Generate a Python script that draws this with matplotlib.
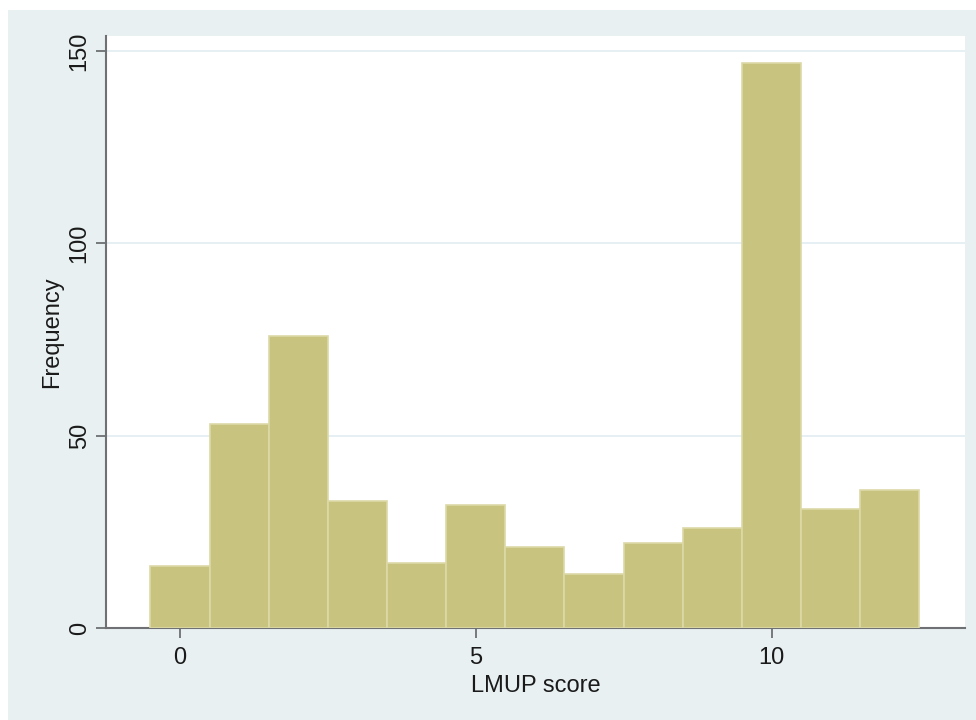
import matplotlib
matplotlib.use("Agg")
import matplotlib.pyplot as plt
from matplotlib.patches import Rectangle

scores = [0, 1, 2, 3, 4, 5, 6, 7, 8, 9, 10, 11, 12]
counts = [16, 53, 76, 33, 17, 32, 21, 14, 22, 26, 147, 31, 36]
x_ticks = [0, 5, 10]
y_ticks = [0, 50, 100, 150]

plt.rcParams["font.family"] = ["Liberation Sans", "DejaVu Sans"]

bg = "#e8f0f2"
bar_color = "#c9c380"
axis_color = "#6e7073"

fig = plt.figure(figsize=(9.76, 7.2), dpi=100, facecolor="white")
# bluish outer region, leaving a thin white strip at top and left
fig.patches.append(Rectangle((8 / 976, 0), 1, (720 - 10) / 720,
                             transform=fig.transFigure, facecolor=bg,
                             edgecolor="none", zorder=-10))

ax = fig.add_axes([106 / 976, 92 / 720, 859 / 976, 592 / 720])
ax.set_zorder(1)
ax.set_facecolor("white")

ax.bar(scores, counts, width=1.0, color=bar_color,
       edgecolor="#ddd9a8", linewidth=1.2, zorder=3)

ax.set_xlim(-1.25, 13.27)
ax.set_ylim(0, 153.9)
ax.set_xticks(x_ticks)
ax.set_yticks(y_ticks)
ax.yaxis.grid(True, color="#e4eef2", linewidth=1.3, zorder=0)
ax.set_axisbelow(True)

for side in ["top", "right"]:
    ax.spines[side].set_visible(False)
for side in ["left", "bottom"]:
    ax.spines[side].set_color(axis_color)
    ax.spines[side].set_linewidth(1.5)

ax.tick_params(axis="both", direction="out", length=7, width=1.3,
               color=axis_color, labelsize=17, labelcolor="#1a1a1a", pad=7)
ax.tick_params(axis="y", pad=4)
for lbl in ax.get_yticklabels():
    lbl.set_rotation(90)
    lbl.set_va("center")

ax.set_xlabel("LMUP score", fontsize=17, color="#1a1a1a", labelpad=4)
ax.set_ylabel("Frequency", fontsize=17, color="#1a1a1a", labelpad=4)

fig.savefig("out.png", dpi=100, facecolor=fig.get_facecolor())
